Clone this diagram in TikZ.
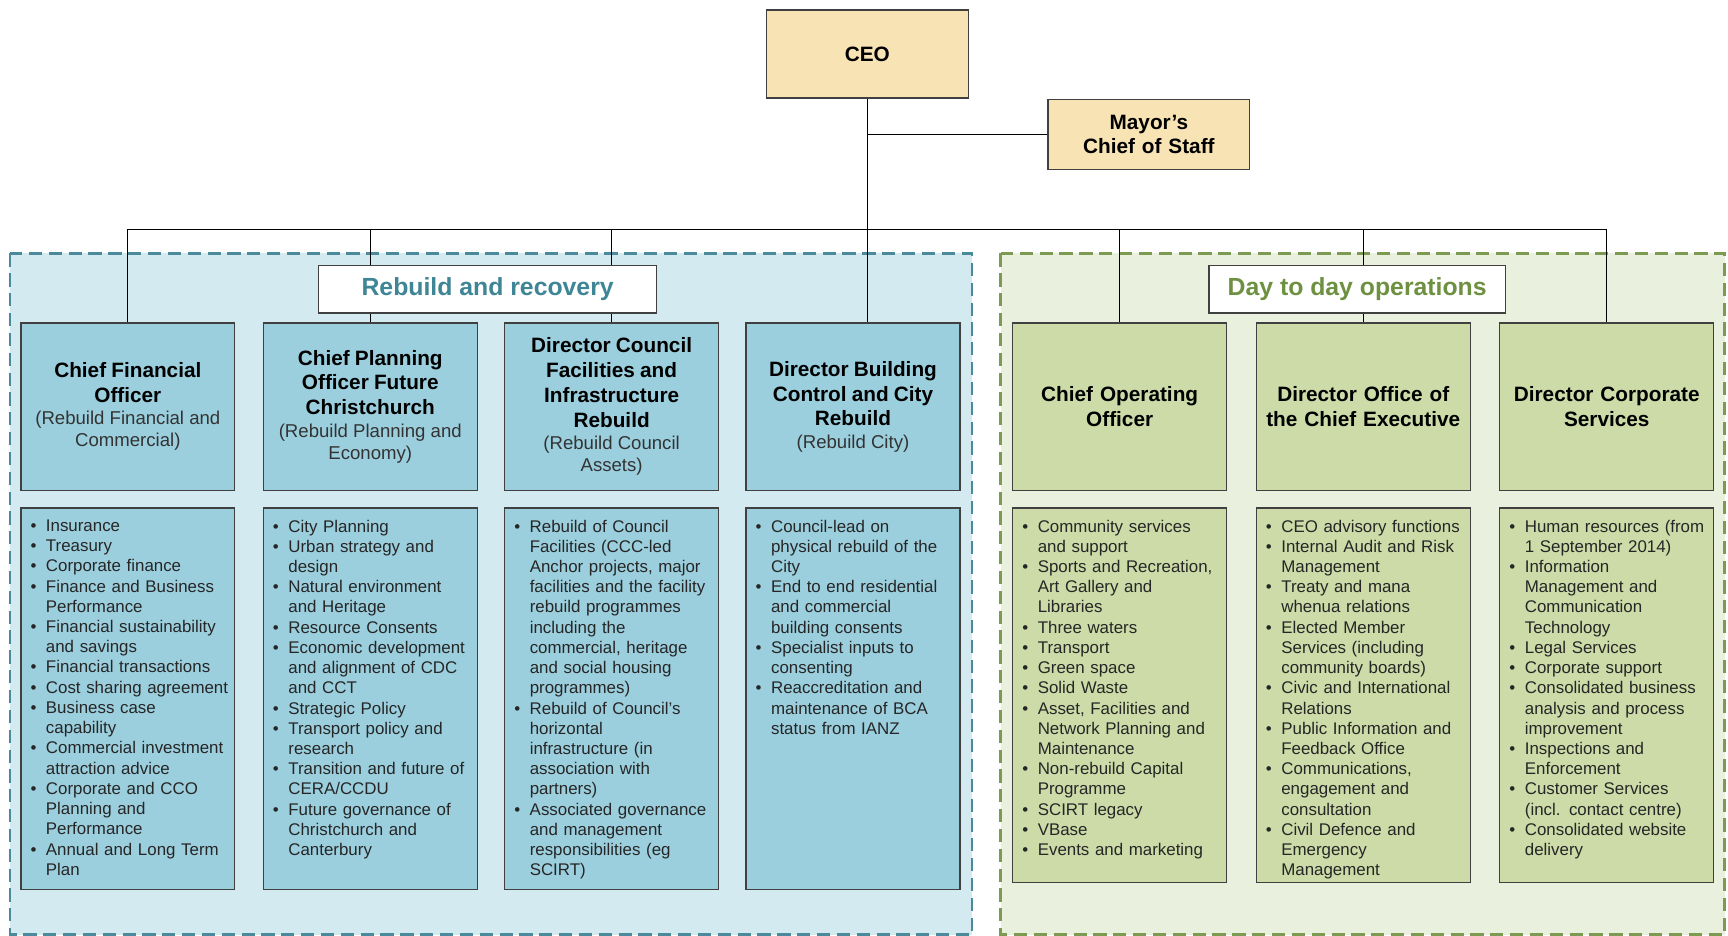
\documentclass[tikz,border=0pt]{standalone}
\usepackage{fontspec}
\setmainfont{Liberation Sans}
\usepackage{tikz}
\definecolor{ceotan}{RGB}{248,227,181}
\definecolor{rrbox}{RGB}{155,207,222}
\definecolor{rrback}{RGB}{211,234,240}
\definecolor{rrline}{RGB}{74,138,155}
\definecolor{rrtext}{RGB}{62,133,150}
\definecolor{ddbox}{RGB}{204,219,168}
\definecolor{ddback}{RGB}{234,240,222}
\definecolor{ddline}{RGB}{125,154,82}
\definecolor{ddtext}{RGB}{110,145,65}
\definecolor{boxline}{RGB}{64,64,64}
\newcommand{\posfont}{\fontsize{13.4}{16}\selectfont\bfseries}
\newcommand{\remitfont}{\fontsize{12}{14.4}\selectfont\color{black!80}}
\newcommand{\dutyfont}{\fontsize{10.9}{13.05}\selectfont\color{black!85}}
\newcommand{\tagfont}{\fontsize{16}{19}\selectfont\bfseries}
\newcommand{\duty}[1]{\hangindent=0.35cm\hangafter=1\noindent\makebox[0.35cm][l]{\textbullet}#1\par}
\tikzstyle{post}=[draw=boxline, line width=0.8pt, inner sep=0, minimum width=4.85cm, text width=4.5cm, align=center]
\tikzstyle{head}=[post, minimum height=3.8cm]
\tikzstyle{duties}=[post]
\tikzstyle{duty text}=[inner sep=0, text width=5cm, align=left, anchor=north west, font=\dutyfont]
\tikzstyle{group}=[line width=1.7pt, dash pattern=on 0.3cm off 0.15cm]
\tikzstyle{grouptag}=[draw=boxline, fill=white, line width=0.8pt, inner sep=0, minimum height=1.075cm, font=\tagfont]

\begin{document}
\begin{tikzpicture}[x=0.025cm, y=-0.025cm]
\useasboundingbox (0,0) rectangle (1568,849);
\draw[group, draw=rrline, fill=rrback] (9,230) rectangle (882,848);
\draw[group, draw=ddline, fill=ddback] (908,230) rectangle (1565,848);

\node[post, fill=ceotan, minimum width=4.575cm, minimum height=2cm, font=\posfont] (ceo) at (787,49) {CEO};
\node[post, fill=ceotan, minimum width=4.575cm, minimum height=1.6cm, font=\posfont] (mayor) at (1042.5,122) {Mayor's\\Chief of Staff};

\node[head, fill=rrbox] (cfo) at (116,369) {{\posfont Chief Financial\\Officer\par}{\remitfont (Rebuild Financial and\\Commercial)\par}};
\node[head, fill=rrbox] (cpo) at (336,369) {{\posfont Chief Planning\\Officer Future\\Christchurch\par}{\remitfont (Rebuild Planning and\\Economy)\par}};
\node[head, fill=rrbox] (dcf) at (555,369) {{\posfont Director Council\\Facilities and\\Infrastructure\\Rebuild\par}{\remitfont (Rebuild Council\\Assets)\par}};
\node[head, fill=rrbox] (dbc) at (774,369) {{\posfont Director Building\\Control and City\\Rebuild\par}{\remitfont (Rebuild City)\par}};
\node[head, fill=ddbox, font=\posfont] (coo) at (1016,369) {Chief Operating\\Officer};
\node[head, fill=ddbox, font=\posfont] (doc) at (1237,369) {Director Office of\\the Chief Executive};
\node[head, fill=ddbox, font=\posfont] (dcs) at (1458,369) {Director Corporate\\Services};

\node[duties, fill=rrbox, minimum height=8.65cm] (lcfo) at (116,634) {};
\node[duties, fill=rrbox, minimum height=8.65cm] (lcpo) at (336,634) {};
\node[duties, fill=rrbox, minimum height=8.65cm] (ldcf) at (555,634) {};
\node[duties, fill=rrbox, minimum height=8.65cm] (ldbc) at (774,634) {};
\node[duties, fill=ddbox, minimum height=8.5cm] (lcoo) at (1016,631) {};
\node[duties, fill=ddbox, minimum height=8.5cm] (ldoc) at (1237,631) {};
\node[duties, fill=ddbox, minimum height=8.5cm] (ldcs) at (1458,631) {};

\node[duty text] at ([xshift=0.225cm, yshift=-0.275cm]lcfo.north west) {\duty{Insurance}\duty{Treasury}\duty{Corporate finance}\duty{Finance and Business\newline Performance}\duty{Financial sustainability\newline and savings}\duty{Financial transactions}\duty{Cost sharing agreement}\duty{Business case\newline capability}\duty{Commercial investment\newline attraction advice}\duty{Corporate and CCO\newline Planning and\newline Performance}\duty{Annual and Long Term\newline Plan}};
\node[duty text] at ([xshift=0.225cm, yshift=-0.275cm]lcpo.north west) {\duty{City Planning}\duty{Urban strategy and\newline design}\duty{Natural environment\newline and Heritage}\duty{Resource Consents}\duty{Economic development\newline and alignment of CDC\newline and CCT}\duty{Strategic Policy}\duty{Transport policy and\newline research}\duty{Transition and future of\newline CERA/CCDU}\duty{Future governance of\newline Christchurch and\newline Canterbury}};
\node[duty text] at ([xshift=0.225cm, yshift=-0.275cm]ldcf.north west) {\duty{Rebuild of Council\newline Facilities (CCC-led\newline Anchor projects, major\newline facilities and the facility\newline rebuild programmes\newline including the\newline commercial, heritage\newline and social housing\newline programmes)}\duty{Rebuild of Council's\newline horizontal\newline infrastructure (in\newline association with\newline partners)}\duty{Associated governance\newline and management\newline responsibilities (eg\newline SCIRT)}};
\node[duty text] at ([xshift=0.225cm, yshift=-0.275cm]ldbc.north west) {\duty{Council-lead on\newline physical rebuild of the\newline City}\duty{End to end residential\newline and commercial\newline building consents}\duty{Specialist inputs to\newline consenting}\duty{Reaccreditation and\newline maintenance of BCA\newline status from IANZ}};
\node[duty text] at ([xshift=0.225cm, yshift=-0.275cm]lcoo.north west) {\duty{Community services\newline and support}\duty{Sports and Recreation,\newline Art Gallery and\newline Libraries}\duty{Three waters}\duty{Transport}\duty{Green space}\duty{Solid Waste}\duty{Asset, Facilities and\newline Network Planning and\newline Maintenance}\duty{Non-rebuild Capital\newline Programme}\duty{SCIRT legacy}\duty{VBase}\duty{Events and marketing}};
\node[duty text] at ([xshift=0.225cm, yshift=-0.275cm]ldoc.north west) {\duty{CEO advisory functions}\duty{Internal Audit and Risk\newline Management}\duty{Treaty and mana\newline whenua relations}\duty{Elected Member\newline Services (including\newline community boards)}\duty{Civic and International\newline Relations}\duty{Public Information and\newline Feedback Office}\duty{Communications,\newline engagement and\newline consultation}\duty{Civil Defence and\newline Emergency\newline Management}};
\node[duty text] at ([xshift=0.225cm, yshift=-0.275cm]ldcs.north west) {\duty{Human resources (from\newline 1 September 2014)}\duty{Information\newline Management and\newline Communication\newline Technology}\duty{Legal Services}\duty{Corporate support}\duty{Consolidated business\newline analysis and process\newline improvement}\duty{Inspections and\newline Enforcement}\duty{Customer Services\newline (incl. contact centre)}\duty{Consolidated website\newline delivery}};

\coordinate (bus) at (787,208);
\draw[line width=0.7pt] (ceo) -- (bus);
\draw[line width=0.7pt] (mayor) -- (mayor -| bus);
\foreach \n in {cfo,cpo,dcf,coo,doc,dcs} \draw[line width=0.7pt] (\n) |- (bus);
\draw[line width=0.7pt] (bus) -- (bus |- dbc.north);

\node[grouptag, text=rrtext, minimum width=7.675cm] (rr) at (442.5,262.5) {Rebuild and recovery};
\node[grouptag, text=ddtext, minimum width=6.725cm] (dd) at (1231.5,262.5) {Day to day operations};
\end{tikzpicture}
\end{document}
